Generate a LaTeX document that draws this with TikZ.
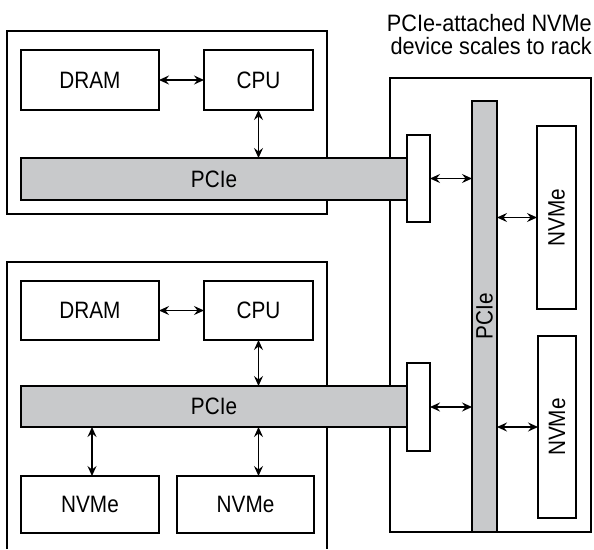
\documentclass[tikz,border=0pt]{standalone}
\usepackage{fontspec}
\setmainfont{Liberation Sans}[FakeStretch=0.875]
\newfontfamily\titlefont{Liberation Sans}[FakeStretch=0.915]
\usetikzlibrary{arrows.meta}
\definecolor{bargray}{RGB}{200,201,203}
\tikzset{
  lbl/.style={font=\fontsize{23.7}{23.7}\selectfont},
  box/.style={draw=black, line width=1.2pt, fill=white, inner sep=0pt, outer sep=0pt, lbl},
  bar/.style={box, fill=bargray},
  frame/.style={draw=black, line width=1.2pt},
  link/.style={line width=1.2pt, {Stealth[length=10pt,width=9pt,inset=3.5pt]}-{Stealth[length=10pt,width=9pt,inset=3.5pt]}},
  title/.style={inner sep=0pt, font=\titlefont\fontsize{23.7}{23.7}\selectfont, anchor=base east}
}
\begin{document}
\begin{tikzpicture}[x=1pt,y=-1pt]
\useasboundingbox (0,0) rectangle (594,549);
% frames
\node[frame, inner sep=0pt, minimum width=320pt, minimum height=183pt] (srv1) at (167,122.5) {};
\draw[frame] (7,549) -- (7,262) -- (327,262) -- (327,549);
\node[frame, inner sep=0pt, minimum width=201pt, minimum height=454pt] (rack) at (490.5,305) {};
% title
\node[title] (t1) at (592,31) {PCIe-attached NVMe};
\node[title] (t2) at (592,54) {device scales to rack};
% server 1
\node[box, minimum width=138pt, minimum height=60pt] (dram1) at (90,80) {DRAM};
\node[box, minimum width=109pt, minimum height=60pt] (cpu1) at (258.5,80) {CPU};
\node[bar, minimum width=386pt, minimum height=42pt] (pcie1) at (214,179) {PCIe};
% server 2
\node[box, minimum width=138pt, minimum height=59pt] (dram2) at (90,310.5) {DRAM};
\node[box, minimum width=109pt, minimum height=59pt] (cpu2) at (258.5,310.5) {CPU};
\node[bar, minimum width=386pt, minimum height=41pt] (pcie2) at (214,406.5) {PCIe};
\node[box, minimum width=138pt, minimum height=57pt] (nv1) at (90,504.5) {NVMe};
\node[box, minimum width=137pt, minimum height=57pt] (nv2) at (245.5,504.5) {NVMe};
% rack
\node[box, minimum width=23pt, minimum height=87pt] (conn1) at (418.5,178.5) {};
\node[box, minimum width=23pt, minimum height=88pt] (conn2) at (418.5,407) {};
\node[bar, minimum width=25pt, minimum height=431pt] (vbar) at (484.5,316.5) {};
\node[inner sep=0pt, rotate=90, lbl] (vlab) at (vbar.center) {PCIe};
\node[box, minimum width=39pt, minimum height=183pt] (nvr1) at (556.5,217.5) {};
\node[inner sep=0pt, rotate=90, lbl] (nvr1lab) at (nvr1.center) {NVMe};
\node[box, minimum width=38pt, minimum height=182pt] (nvr2) at (557,427) {};
\node[inner sep=0pt, rotate=90, lbl] (nvr2lab) at (nvr2.center) {NVMe};
% links
\draw[link] (dram1.east) -- (cpu1.west);
\draw[link] (cpu1.south) -- (cpu1.south |- pcie1.north);
\draw[link] (dram2.east) -- (cpu2.west);
\draw[link] (cpu2.south) -- (cpu2.south |- pcie2.north);
\draw[link] ([xshift=2pt]nv1.north |- pcie2.south) -- ([xshift=2pt]nv1.north);
\draw[link] (cpu2.south |- pcie2.south) -- (cpu2.south |- nv2.north);
\draw[link] (conn1.east) -- (conn1.east -| vbar.west);
\draw[link] (conn2.east) -- (conn2.east -| vbar.west);
\draw[link] (nvr1.west -| vbar.east) -- (nvr1.west);
\draw[link] (nvr2.west -| vbar.east) -- (nvr2.west);
\end{tikzpicture}
\end{document}
